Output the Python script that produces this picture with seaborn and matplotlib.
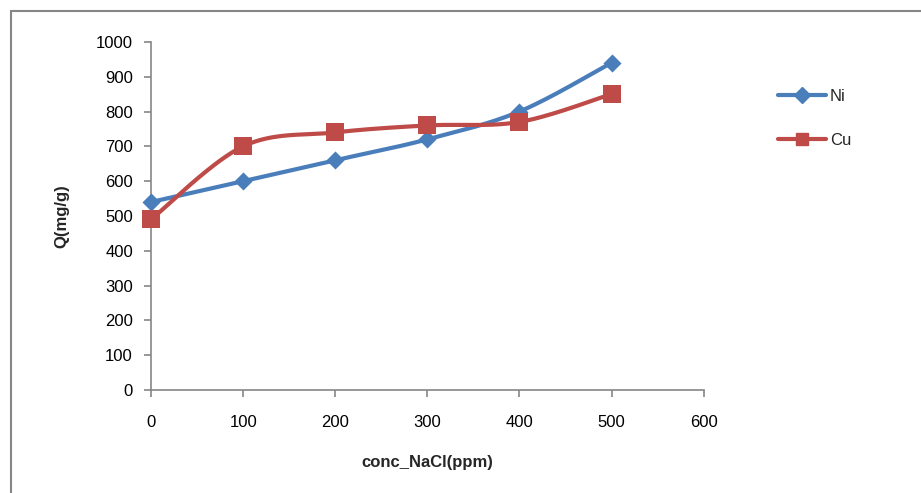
import numpy as np
import pandas as pd
import seaborn as sns
import matplotlib.pyplot as plt
from matplotlib.lines import Line2D

conc = [0, 100, 200, 300, 400, 500]
ni = [540, 600, 660, 720, 800, 940]
cu = [490, 700, 740, 760, 770, 850]


def smooth(x, y, n=40):
    # Excel-like smoothed line (Catmull-Rom through bezier control points)
    p = np.column_stack([x, y]).astype(float)
    p = np.vstack([p[0], p, p[-1]])
    t = np.linspace(0, 1, n)[:, None]
    out = []
    for i in range(1, len(p) - 2):
        p0, p1, p2, p3 = p[i - 1], p[i], p[i + 1], p[i + 2]
        c1 = p1 + (p2 - p0) / 6
        c2 = p2 - (p3 - p1) / 6
        seg = ((1 - t) ** 3) * p1 + 3 * ((1 - t) ** 2) * t * c1 + 3 * (1 - t) * t ** 2 * c2 + t ** 3 * p2
        out.append(seg if i == 1 else seg[1:])
    s = np.vstack(out)
    return s[:, 0], s[:, 1]


sns.set_style("white")
plt.rcParams["font.family"] = ["Liberation Sans", "DejaVu Sans"]

fig = plt.figure(figsize=(9.21, 4.93), dpi=100)
ax = fig.add_axes([0.164, 0.209, 0.600, 0.706])

blue = "#4A7EBB"
red = "#BE4B48"

for vals, color, marker, ms in [(ni, blue, "D", 85), (cu, red, "s", 170)]:
    sx, sy = smooth(conc, vals)
    sns.lineplot(x=sx, y=sy, ax=ax, color=color, linewidth=3, sort=False)
    sns.scatterplot(x=conc, y=vals, ax=ax, color=color, marker=marker, s=ms,
                    edgecolor=color, linewidth=0, zorder=5, clip_on=False)

ax.set_xlim(0, 600)
ax.set_ylim(0, 1000)
ax.set_xticks(range(0, 601, 100))
ax.set_yticks(range(0, 1001, 100))
ax.tick_params(axis="both", labelsize=12, colors="#868686", labelcolor="black",
               length=5, width=1.2, direction="out", bottom=True, left=True)
ax.tick_params(axis="x", pad=13)
ax.tick_params(axis="y", pad=8)
for side in ["top", "right"]:
    ax.spines[side].set_visible(False)
for side in ["left", "bottom"]:
    ax.spines[side].set_color("#868686")
    ax.spines[side].set_linewidth(1.2)

ax.set_xlabel("conc_NaCl(ppm)", fontsize=12, fontweight="bold", labelpad=18)
ax.set_ylabel("Q(mg/g)", fontsize=12, fontweight="bold", labelpad=19)

handles = [
    Line2D([], [], color=blue, lw=3, marker="D", markersize=8),
    Line2D([], [], color=red, lw=3, marker="s", markersize=9),
]
fig.legend(handles, ["Ni", "Cu"], loc="upper left", bbox_to_anchor=(0.828, 0.85),
           frameon=False, fontsize=12, handlelength=2.9, handletextpad=0.25,
           labelspacing=1.75)

# outer chart border (only top and left visible in reference)
fig.add_artist(Line2D([0.012, 1.0], [0.978, 0.978], color="#868686", lw=1.5,
                      transform=fig.transFigure))
fig.add_artist(Line2D([0.012, 0.012], [0.0, 0.978], color="#868686", lw=1.5,
                      transform=fig.transFigure))

fig.savefig("out.png", dpi=100)
